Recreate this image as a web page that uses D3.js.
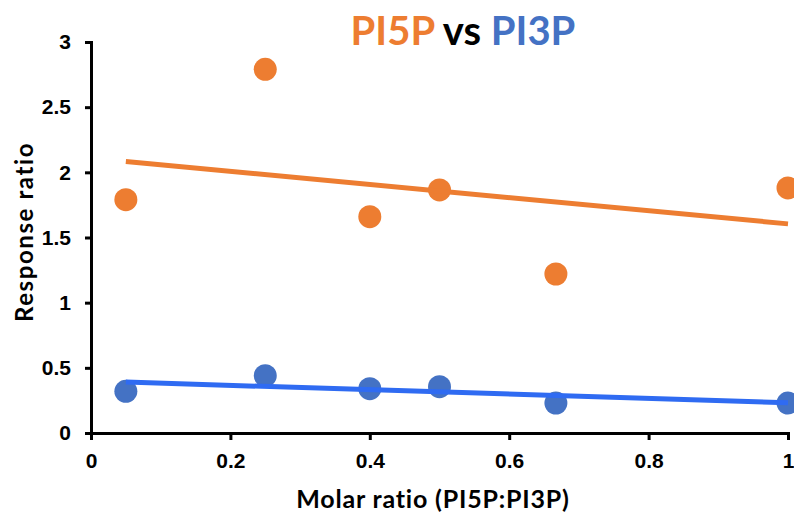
<!DOCTYPE html>
<html><head><meta charset="utf-8">
<script src="https://cdn.jsdelivr.net/npm/d3@7"></script>
<style>body{margin:0;background:#fff}svg{display:block}</style>
</head><body>
<svg id="c" width="794" height="514"></svg>
<script>
const xTicks = [0, 0.2, 0.4, 0.6, 0.8, 1];
const yTicks = [0, 0.5, 1, 1.5, 2, 2.5, 3];
const molarRatio = [0.05, 0.25, 0.4, 0.5, 0.667, 1];
const pi5p = [1.79, 2.79, 1.66, 1.865, 1.22, 1.88];
const pi3p = [0.32, 0.44, 0.34, 0.355, 0.23, 0.23];

const svg = d3.select("#c");
const x = d3.scaleLinear().domain([0, 1]).range([91, 788]);
const y = d3.scaleLinear().domain([0, 3]).range([433, 42]);

function fit(xs, ys) {
  const mx = d3.mean(xs), my = d3.mean(ys);
  const b = d3.sum(xs, (v, i) => (v - mx) * (ys[i] - my)) / d3.sum(xs, v => (v - mx) ** 2);
  return v => my + b * (v - mx);
}

const series = [
  {vals: pi5p, dot: "#ED7D31", line: "#ED7D31"},
  {vals: pi3p, dot: "#4472C4", line: "#2F6BF2"}
];

series.forEach(s => {
  svg.selectAll(null).data(molarRatio).enter().append("circle")
    .attr("cx", d => x(d)).attr("cy", (d, i) => y(s.vals[i])).attr("r", 11.5)
    .attr("fill", s.dot);
});
series.forEach(s => {
  const f = fit(molarRatio, s.vals);
  const ext = d3.extent(molarRatio);
  svg.append("line")
    .attr("x1", x(ext[0])).attr("y1", y(f(ext[0])))
    .attr("x2", x(ext[1])).attr("y2", y(f(ext[1])))
    .attr("stroke", s.line).attr("stroke-width", 5);
});

const fmt = d => String(d);
const xa = svg.append("g").attr("transform", "translate(0,433)")
  .call(d3.axisBottom(x).tickValues(xTicks).tickFormat(fmt).tickSize(7).tickPadding(13));
const ya = svg.append("g").attr("transform", "translate(91,0)")
  .call(d3.axisLeft(y).tickValues(yTicks).tickFormat(fmt).tickSize(6).tickPadding(14));
[xa, ya].forEach(a => {
  a.select(".domain").attr("stroke", "#000").attr("stroke-width", 3);
  a.selectAll(".tick line").attr("stroke", "#000").attr("stroke-width", 3);
  a.selectAll(".tick text").attr("fill", "#000")
    .style("font-family", "'Liberation Sans', Arial, sans-serif")
    .style("font-weight", "bold").style("font-size", "21px");
});

const title = svg.append("text").attr("x", 463).attr("y", 45).attr("text-anchor", "middle")
  .style("font-family", "Lato, 'Open Sans', sans-serif").style("font-weight", "bold").style("font-size", "40px");
title.append("tspan").attr("fill", "#ED7D31").text("PI5P");
title.append("tspan").attr("fill", "#000").text(" vs ");
title.append("tspan").attr("fill", "#4472C4").text("PI3P");

svg.append("text").attr("x", 433).attr("y", 508).attr("text-anchor", "middle")
  .style("font-family", "Lato, 'Open Sans', sans-serif").style("font-weight", "bold").style("font-size", "25px")
  .style("letter-spacing", "0.8px")
  .text("Molar ratio (PI5P:PI3P)");

svg.append("text").attr("transform", "translate(33,232) rotate(-90)").attr("text-anchor", "middle")
  .style("font-family", "Lato, 'Open Sans', sans-serif").style("font-weight", "bold").style("font-size", "24px")
  .style("letter-spacing", "1.6px")
  .text("Response ratio");
</script>
</body></html>
